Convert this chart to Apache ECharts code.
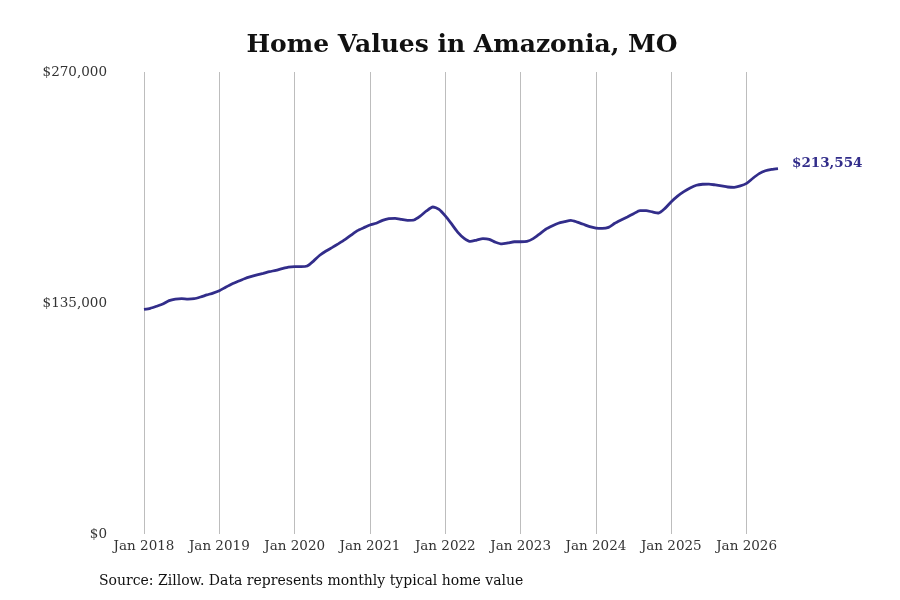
<!DOCTYPE html>
<html>
<head>
<meta charset="utf-8">
<script src="https://cdn.jsdelivr.net/npm/echarts@6/dist/echarts.min.js"></script>
<style>
  html, body { margin: 0; padding: 0; background: #fff; }
  #chart { width: 900px; height: 600px; }
</style>
</head>
<body>
<div id="chart"></div>
<script>
// ---- Data (monthly typical home value) ----
const years = [2018, 2019, 2020, 2021, 2022, 2023, 2024, 2025, 2026];
const monthNames = ['Jan','Feb','Mar','Apr','May','Jun','Jul','Aug','Sep','Oct','Nov','Dec'];
const v2018 = [131300, 131900, 133100, 134400, 136400, 137300, 137500, 137300, 137500, 138500, 139700, 140800];
const v2019 = [142200, 144200, 146100, 147700, 149200, 150400, 151400, 152300, 153300, 154100, 155100, 156000];
const v2020 = [156200, 156200, 156600, 159500, 162900, 165400, 167500, 169700, 172000, 174700, 177300, 179000];
const v2021 = [180600, 181600, 183300, 184300, 184500, 183900, 183300, 183500, 185800, 188800, 191100, 189700];
const v2022 = [185900, 181200, 176300, 172800, 171000, 171800, 172600, 172200, 170500, 169500, 170100, 170800];
const v2023 = [170800, 171000, 172600, 175300, 178100, 180000, 181600, 182500, 183300, 182300, 181000, 179600];
const v2024 = [178800, 178600, 179200, 181600, 183500, 185300, 187200, 189000, 189000, 188200, 187600, 190300];
const v2025 = [194200, 197500, 200100, 202200, 203800, 204400, 204500, 204000, 203400, 202800, 202600, 203400];
const v2026 = [204900, 207900, 210600, 212300, 213100, 213554];
const yTicks = [0, 135000, 270000];

const yearValues = [v2018, v2019, v2020, v2021, v2022, v2023, v2024, v2025, v2026];
const categories = [];
const values = [];
yearValues.forEach((arr, yi) => {
  arr.forEach((v, mi) => {
    categories.push(monthNames[mi] + ' ' + years[yi]);
    values.push(v);
  });
});

const fmtMoney = v => '$' + Math.round(v).toLocaleString('en-US');
const isJan = (idx, val) => String(val).indexOf('Jan') === 0;
const FONT = '"DejaVu Serif", serif';
const LINE_COLOR = '#322d8a';

const chart = echarts.init(document.getElementById('chart'), null, { renderer: 'canvas' });
chart.setOption({
  backgroundColor: '#ffffff',
  animation: false,
  title: {
    text: 'Home Values in Amazonia, MO',
    left: 457,
    top: 28,
    textAlign: 'center',
    textStyle: { fontFamily: FONT, fontWeight: 'bold', fontSize: 25, color: '#111' }
  },
  grid: { left: 144, right: 122, top: 72, bottom: 66, containLabel: false },
  xAxis: {
    type: 'category',
    data: categories,
    boundaryGap: false,
    axisLine: { show: false },
    axisTick: { show: false },
    axisLabel: {
      interval: isJan,
      margin: 5,
      fontFamily: FONT,
      fontSize: 13.5,
      color: '#333'
    },
    splitLine: {
      show: true,
      interval: isJan,
      lineStyle: { color: '#bdbdbd', width: 1 }
    }
  },
  yAxis: {
    type: 'value',
    min: yTicks[0],
    max: yTicks[yTicks.length - 1],
    interval: yTicks[1] - yTicks[0],
    axisLine: { show: false },
    axisTick: { show: false },
    splitLine: { show: false },
    axisLabel: {
      margin: 37,
      fontFamily: FONT,
      fontSize: 13.5,
      color: '#333',
      formatter: v => fmtMoney(v)
    }
  },
  series: [{
    type: 'line',
    data: values,
    showSymbol: false,
    smooth: 0.2,
    lineStyle: { color: LINE_COLOR, width: 2.8 },
    itemStyle: { color: LINE_COLOR },
    endLabel: {
      show: true,
      distance: 14,
      offset: [0, -5],
      formatter: p => fmtMoney(p.value),
      fontFamily: FONT,
      fontWeight: 'bold',
      fontSize: 13.5,
      color: LINE_COLOR
    }
  }],
  graphic: [{
    type: 'text',
    left: 99,
    top: 574,
    style: {
      text: 'Source: Zillow. Data represents monthly typical home value',
      font: '14px "DejaVu Serif", serif',
      fill: '#111'
    }
  }]
});
</script>
</body>
</html>
